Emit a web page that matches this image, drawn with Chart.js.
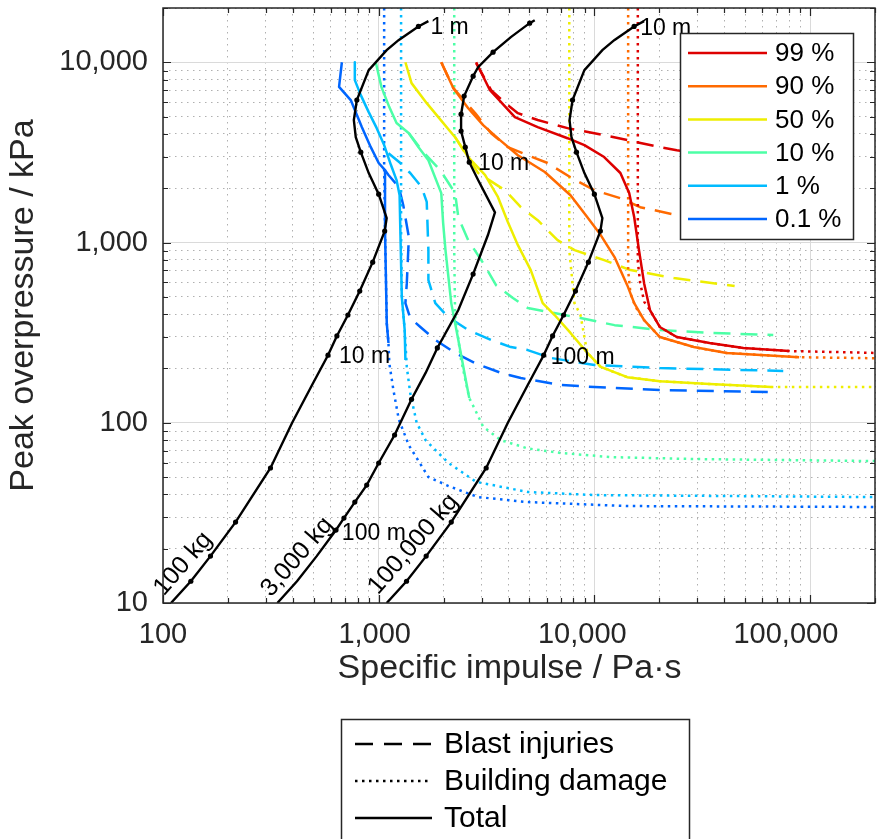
<!DOCTYPE html>
<html>
<head>
<meta charset="utf-8">
<script src="https://cdn.jsdelivr.net/npm/chart.js@4.4.1/dist/chart.umd.min.js"></script>
<style>
  html, body { margin: 0; padding: 0; background: #fff; }
</style>
</head>
<body>
<canvas id="chart" width="879" height="839"></canvas>
<script>
const FONT = '"Liberation Sans", Arial, Helvetica, sans-serif';

// probability levels and their colours
const probLabels = ["99 %", "90 %", "50 %", "10 %", "1 %", "0.1 %"];
const probColors = ["#dd0000", "#ff6a00", "#eeee00", "#4cffa6", "#00bbff", "#0066ff"];
const styleLabels = ["Blast injuries", "Building damage", "Total"];

// axis decades (labelled ticks)
const xDecades = [100, 1000, 10000, 100000];
const yDecades = [10, 100, 1000, 10000];

// [specific impulse Pa·s, peak overpressure kPa]
const blast99 = [[2830,9900],[3320,7000],[3970,5780],[4420,5220],[5460,4780],[7510,4310],[10000,4040],[14200,3700],[20100,3380],[24100,3250],[29800,3130]];
const building99 = [[15900,20000],[15900,780],[16300,600],[17000,470],[18100,422],[20100,340],[24100,299],[34200,277],[49100,260],[80000,250],[200000,244]];
const total99 = [[2830,10000],[3280,7000],[4280,4960],[5460,4370],[7510,3790],[8990,3470],[11100,2980],[13200,2430],[14500,1880],[15300,1380],[16100,907],[17000,595],[18100,422],[20100,340],[24100,299],[34200,277],[49100,260],[80000,250]];

const blast90 = [[1950,10000],[2220,7180],[2410,6410],[2800,5220],[3320,4040],[3970,3380],[4910,3050],[6070,2760],[7750,2300],[10000,1950],[13200,1760],[16300,1570],[24100,1420],[29800,1370]];
const building90 = [[14340,20000],[14340,700],[14700,520],[15500,440],[17000,371],[20100,299],[28900,263],[41000,244],[89000,231],[200000,228]];
const total90 = [[1950,10000],[2220,7180],[2600,5560],[3050,4480],[3650,3700],[4420,3050],[5890,2460],[7750,1830],[9280,1380],[10700,1100],[12400,830],[14200,580],[15300,461],[17000,371],[20100,299],[28900,263],[41000,244],[89000,231]];

const blast50 = [[2260,3840],[2890,2430],[3850,1950],[4560,1570],[5460,1330],[6750,1030],[8090,907],[11100,798],[14700,703],[23400,635],[44700,573]];
const building50 = [[7650,20000],[7650,900],[8090,461],[8620,396],[8990,299],[9280,244],[10700,204],[14200,179],[20100,170],[34200,164],[66100,158],[200000,158]];
const total50 = [[1330,10000],[1420,7660],[1670,5930],[1890,4960],[2260,3840],[2600,2980],[3110,2370],[3570,1790],[3970,1300],[4420,967],[5070,703],[5760,461],[6540,396],[7750,315],[9280,244],[10700,204],[14200,179],[20100,170],[34200,164],[66100,158]];

const blast10 = [[1380,4040],[1610,3170],[1930,2520],[2260,1880],[2340,1380],[2600,1030],[3050,769],[3500,580],[4190,492],[4910,433],[8620,381],[12400,348],[20100,327],[34200,315],[67500,307]];
const building10 = [[2240,20000],[2240,900],[2260,400],[2410,223],[2630,137],[2800,118],[3050,95],[3690,80],[4910,72],[6970,68],[11900,64.5],[28900,62.9],[200000,61.3]];
const total10 = [[969,10000],[1030,7280],[1120,5640],[1210,4600],[1380,4040],[1530,3380],[1700,2860],[1950,1880],[1990,1280],[2040,907],[2170,461],[2340,288],[2520,179],[2630,137]];

const blast1 = [[1110,3130],[1260,2760],[1400,2430],[1580,2030],[1670,1680],[1700,907],[1700,619],[1830,461],[2100,386],[2600,327],[3320,288],[4100,263],[4910,253],[6270,229],[10000,209],[20100,201],[75100,194]];
const building1 = [[1270,20000],[1270,1800],[1270,1170],[1280,500],[1320,327],[1350,204],[1400,146],[1500,100],[1650,80],[2100,60],[2830,47],[4910,41.3],[10000,39.7],[200000,38.7]];
const total1 = [[775,10000],[775,7960],[826,6570],[899,5290],[979,4310],[1060,3470],[1140,2690],[1210,2220],[1250,1830],[1260,1170],[1280,498],[1320,327],[1330,223]];

const blast01 = [[1070,2520],[1110,2370],[1240,2030],[1300,1610],[1380,1070],[1350,595],[1330,461],[1400,381],[1560,340],[1830,288],[2260,244],[2800,214],[3690,189],[4560,177],[6970,162],[10000,158],[20100,152],[66100,148]];
const building01 = [[1060,20000],[1060,2520],[1070,1170],[1090,357],[1110,277],[1120,214],[1170,152],[1240,104],[1380,75],[1700,50],[2100,44.6],[2890,38.7],[4910,36.3],[14200,34.5],[200000,34.1]];
const total01 = [[675,10000],[655,7300],[742,6170],[835,4370],[919,3380],[1000,2760],[1070,2520],[1070,1170],[1090,357],[1110,277]];

// total curves for each charge: [impulse, pressure, stand-off distance in m (0 = no marker)]
const charge100kg = [[1700,16900,0],[1528,15800,1],[1236,13260,0],[1089,11670,0],[899,9040,0],[792,6170,2],[767,4775,0],[783,3843,0],[826,3170,3],[899,2426,0],[1000,1855,4],[1089,1366,0],[1066,1157,5],[938,778,6],[817,538,7],[720,396,8],[640,303,9],[582,237,10],[491,162,0],[397,100,0],[315,56.1,20],[217,28.1,30],[166,18.2,40],[134.6,13.2,50],[108.9,10,0]];
const charge3000kg = [[5290,17120,0],[5010,16480,3],[4100,13780,0],[3390,11380,4],[2890,9390,0],[2740,8370,5],[2490,6490,6],[2410,5150,7],[2410,4150,8],[2520,3380,9],[2630,2790,10],[2890,2220,0],[3460,1470,0],[3210,1100,0],[2740,668,20],[2340,422,0],[1870,260,30],[1650,189,0],[1420,135,40],[1185,85.5,50],[1000,59.8,60],[880,45.1,70],[775,36.3,80],[690,29.6,90],[634,25.4,100],[516,18.2,0],[418,13.2,0],[339,10,0]];
const charge100000kg = [[17000,16900,0],[15280,15800,10],[12360,13260,0],[10890,11670,0],[8990,9040,0],[7920,6170,20],[7670,4775,0],[7830,3843,0],[8260,3170,30],[8990,2426,0],[10000,1855,40],[10890,1366,0],[10660,1157,50],[9380,778,60],[8170,538,70],[7200,396,80],[6400,303,90],[5820,237,100],[4910,162,0],[3970,100,0],[3150,56.1,200],[2170,28.1,300],[1660,18.2,400],[1346,13.2,500],[1089,10,0]];

// text annotations (data coordinates)
const distanceLabels = [
  ["1 m", 1737, 15650], ["10 m", 2890, 2722], ["10 m", 654, 234],
  ["100 m", 6270, 231], ["100 m", 675, 24.4], ["10 m", 16300, 15450]
];
const chargeLabels = [["100 kg", 124, 16.5], ["3,000 kg", 419, 18.0], ["100,000 kg", 1449, 21.2]];

const blastSets = [blast99, blast90, blast50, blast10, blast1, blast01];
const buildingSets = [building99, building90, building50, building10, building1, building01];
const totalSets = [total99, total90, total50, total10, total1, total01];
const chargeSets = [charge100kg, charge3000kg, charge100000kg];

const DASH = [17, 10];
const DOT = [2.5, 4.5];

function isDecade(v) {
  const l = Math.log10(v);
  return Math.abs(l - Math.round(l)) < 1e-9;
}
function withMinors(decades, top) {
  const out = [];
  decades.forEach(d => { for (let k = 1; k <= 9; k++) if (d * k <= top) out.push(d * k); });
  out.push(top);
  return Array.from(new Set(out));
}
const xTicks = withMinors(xDecades, 200000);
const yTicks = withMinors(yDecades, 20000);

// x labels sit a little left of their ticks in the reference
const xLabelPad = {100: "", 1000: " ", 10000: "   ", 100000: "      "};

const toXY = arr => arr.map(p => ({x: p[0], y: p[1]}));

const datasets = [];
chargeSets.forEach(c => {
  datasets.push({
    data: toXY(c.filter(p => p[2] > 0)), showLine: false,
    pointRadius: 2.6, pointBackgroundColor: "#000", pointBorderWidth: 0, order: 0
  });
  datasets.push({
    data: toXY(c), showLine: true, borderColor: "#000", borderWidth: 2.4,
    pointRadius: 0, tension: 0, order: 1
  });
});
probColors.forEach((col, i) => {
  [[totalSets[i], []], [blastSets[i], DASH], [buildingSets[i], DOT]].forEach(([d, dash]) => {
    datasets.push({
      data: toXY(d), showLine: true, borderColor: col, borderWidth: 2.5,
      borderDash: dash, pointRadius: 0, tension: 0, order: 2,
      borderJoinStyle: "round"
    });
  });
});

const gridColor = c => (c.tick && isDecade(c.tick.value)) ? "#dadada" : "#b0b0b0";
const gridDash = c => (c.tick && isDecade(c.tick.value)) ? [] : [1.5, 4.5];
const noPadding = s => { s.paddingTop = 0; s.paddingBottom = 0; s.paddingLeft = 0; s.paddingRight = 0; };

const overlay = {
  id: "overlay",
  afterDatasetsDraw(chart) {
    const {ctx, chartArea: a, scales: {x, y}} = chart;
    ctx.save();
    ctx.fillStyle = "#000";
    ctx.font = "23px " + FONT;
    ctx.textAlign = "left";
    ctx.textBaseline = "middle";
    distanceLabels.forEach(([t, vx, vy]) => ctx.fillText(t, x.getPixelForValue(vx), y.getPixelForValue(vy)));
    ctx.font = "25px " + FONT;
    ctx.textAlign = "center";
    chargeLabels.forEach(([t, vx, vy]) => {
      ctx.save();
      ctx.translate(x.getPixelForValue(vx), y.getPixelForValue(vy));
      ctx.rotate(-49 * Math.PI / 180);
      ctx.fillText(t, 0, 0);
      ctx.restore();
    });
    // axes box with inward ticks
    ctx.strokeStyle = "#262626";
    ctx.lineWidth = 1.5;
    ctx.strokeRect(a.left, a.top, a.right - a.left, a.bottom - a.top);
    ctx.lineWidth = 1.2;
    ctx.beginPath();
    xTicks.forEach(v => {
      const p = Math.round(x.getPixelForValue(v)) + 0.5, len = isDecade(v) ? 8 : 5;
      ctx.moveTo(p, a.bottom); ctx.lineTo(p, a.bottom - len);
      ctx.moveTo(p, a.top); ctx.lineTo(p, a.top + len);
    });
    yTicks.forEach(v => {
      const p = Math.round(y.getPixelForValue(v)) + 0.5, len = isDecade(v) ? 8 : 5;
      ctx.moveTo(a.left, p); ctx.lineTo(a.left + len, p);
      ctx.moveTo(a.right, p); ctx.lineTo(a.right - len, p);
    });
    ctx.stroke();
    ctx.restore();
  },
  afterDraw(chart) {
    const ctx = chart.ctx;
    ctx.save();
    // probability legend
    ctx.fillStyle = "#fff";
    ctx.fillRect(680, 33, 173, 206);
    ctx.strokeStyle = "#262626";
    ctx.lineWidth = 1.5;
    ctx.strokeRect(680.5, 33.5, 173, 206);
    ctx.font = "26px " + FONT;
    ctx.textBaseline = "middle";
    ctx.textAlign = "left";
    probLabels.forEach((t, i) => {
      const yy = 53 + i * 33.2;
      ctx.strokeStyle = probColors[i];
      ctx.lineWidth = 2.5;
      ctx.beginPath(); ctx.moveTo(688, yy); ctx.lineTo(767, yy); ctx.stroke();
      ctx.fillStyle = "#000";
      ctx.fillText(t, 775, yy + 1);
    });
    // line style legend
    ctx.fillStyle = "#fff";
    ctx.fillRect(341, 719, 348, 130);
    ctx.strokeStyle = "#262626";
    ctx.lineWidth = 1.5;
    ctx.strokeRect(341.5, 719.5, 348, 130);
    ctx.font = "30px " + FONT;
    [[18, 11], DOT, []].forEach((dash, i) => {
      const yy = 744 + i * 37;
      ctx.strokeStyle = "#000";
      ctx.lineWidth = 2.5;
      ctx.setLineDash(dash);
      ctx.beginPath(); ctx.moveTo(355, yy); ctx.lineTo(432, yy); ctx.stroke();
      ctx.setLineDash([]);
      ctx.fillStyle = "#000";
      ctx.fillText(styleLabels[i], 444, yy + 1);
    });
    ctx.restore();
  }
};

Chart.defaults.font.family = FONT;

new Chart(document.getElementById("chart").getContext("2d"), {
  type: "scatter",
  data: { datasets: datasets },
  options: {
    responsive: false,
    animation: false,
    devicePixelRatio: 1,
    events: [],
    layout: { padding: { top: 8, right: 0, bottom: 150, left: 0 } },
    plugins: { legend: { display: false }, tooltip: { enabled: false } },
    scales: {
      x: {
        type: "logarithmic", min: 100, max: 200000,
        afterBuildTicks: s => { s.ticks = xTicks.map(v => ({value: v})); },
        afterFit: s => { s.height = 86; noPadding(s); },
        ticks: {
          autoSkip: false, maxRotation: 0, padding: 15, color: "#262626",
          font: { size: 29 },
          callback: v => isDecade(v) ? Number(v).toLocaleString("en-US") + xLabelPad[v] : ""
        },
        grid: { drawTicks: false, color: gridColor, lineWidth: 1 },
        border: { display: false, dash: gridDash },
        title: { display: true, text: "Specific impulse / Pa·s  ", color: "#262626", font: { size: 34 }, padding: 0 }
      },
      y: {
        type: "logarithmic", min: 10, max: 20000,
        afterBuildTicks: s => { s.ticks = yTicks.map(v => ({value: v})); },
        afterFit: s => { s.width = 163; noPadding(s); },
        ticks: {
          autoSkip: false, padding: 15, color: "#262626",
          font: { size: 29 },
          callback: v => isDecade(v) ? Number(v).toLocaleString("en-US") : ""
        },
        grid: { drawTicks: false, color: gridColor, lineWidth: 1 },
        border: { display: false, dash: gridDash },
        title: { display: true, text: "Peak overpressure / kPa", color: "#262626", font: { size: 34 }, padding: { top: 3, bottom: 0 } }
      }
    }
  },
  plugins: [overlay]
});
</script>
</body>
</html>
